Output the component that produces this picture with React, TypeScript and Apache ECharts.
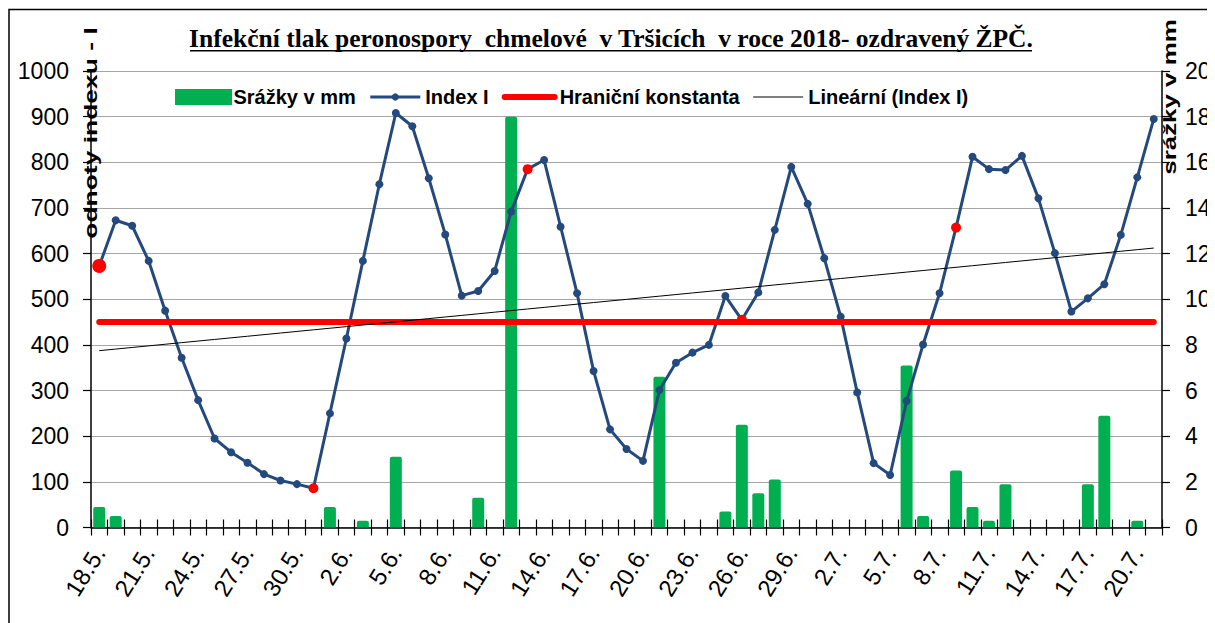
import React, { useEffect, useRef } from "react";
import * as echarts from "echarts";

const dates = [
  "18.5.", "19.5.", "20.5.", "21.5.", "22.5.", "23.5.", "24.5.", "25.5.", "26.5.", "27.5.", "28.5.", "29.5.", "30.5.", "31.5.",
  "1.6.", "2.6.", "3.6.", "4.6.", "5.6.", "6.6.", "7.6.", "8.6.", "9.6.", "10.6.", "11.6.", "12.6.", "13.6.", "14.6.", "15.6.",
  "16.6.", "17.6.", "18.6.", "19.6.", "20.6.", "21.6.", "22.6.", "23.6.", "24.6.", "25.6.", "26.6.", "27.6.", "28.6.", "29.6.", "30.6.",
  "1.7.", "2.7.", "3.7.", "4.7.", "5.7.", "6.7.", "7.7.", "8.7.", "9.7.", "10.7.", "11.7.", "12.7.", "13.7.", "14.7.", "15.7.",
  "16.7.", "17.7.", "18.7.", "19.7.", "20.7.", "21.7.",
];

const indexI = [
  573, 673, 661, 584, 475, 372, 279, 195, 165, 142, 117, 103, 95, 86,
  250, 414, 584, 752, 908, 879, 765, 642, 508, 518, 562, 692, 785, 805, 659,
  513, 343, 215, 172, 146, 301, 361, 383, 400, 507, 455, 515, 652, 790, 709,
  590, 462, 296, 141, 115, 277, 401, 513, 657, 812, 785, 783, 814, 721, 601,
  473, 502, 533, 641, 767, 895,
];

const srazky = [
  0.9, 0.5, 0, 0, 0, 0, 0, 0, 0, 0, 0, 0, 0, 0,
  0.9, 0, 0.3, 0, 3.1, 0, 0, 0, 0, 1.3, 0, 18, 0, 0, 0,
  0, 0, 0, 0, 0, 6.6, 0, 0, 0, 0.7, 4.5, 1.5, 2.1, 0, 0,
  0, 0, 0, 0, 0, 7.1, 0.5, 0, 2.5, 0.9, 0.3, 1.9, 0, 0, 0,
  0, 1.9, 4.9, 0, 0.3, 0,
];

// days marked in red on the Index I curve (every 13th day)
const redPoints = [0, 13, 26, 39, 52];
const hranicniKonstanta = 450;

const leftTicks = { min: 0, max: 1000, interval: 100 };
const rightTicks = { min: 0, max: 20, interval: 2 };

const titleText = "Infekční tlak peronospory  chmelové  v Tršicích  v roce 2018- ozdravený ŽPČ.";

function linearFit(vals: number[]) {
  const n = vals.length;
  let sx = 0, sy = 0, sxy = 0, sxx = 0;
  vals.forEach((v, i) => {
    sx += i; sy += v; sxy += i * v; sxx += i * i;
  });
  const b = (n * sxy - sx * sy) / (n * sxx - sx * sx);
  const a = (sy - b * sx) / n;
  return vals.map((_, i) => +(a + b * i).toFixed(2));
}

export default function App() {
  const ref = useRef<HTMLDivElement>(null);
  useEffect(() => {
    if (!ref.current) return;
    const chart = echarts.init(ref.current, null, { renderer: "svg" });
    const sans = '"Liberation Sans", Arial, sans-serif';
    const trend = linearFit(indexI);
    const indexData = indexI.map((v, i) => {
      if (redPoints.includes(i)) {
        return { value: v, symbolSize: i === 0 ? 14 : 10, itemStyle: { color: "#ff0000" } };
      }
      return v;
    });
    const option: any = {
      animation: false,
      backgroundColor: "#ffffff",
      grid: { left: 83, top: 63, width: 1071, height: 456.5 },
      legend: {
        left: 167,
        top: 79,
        padding: 0,
        itemWidth: 50,
        itemHeight: 9,
        itemGap: 13,
        textStyle: { fontFamily: sans, fontSize: 20, fontWeight: "bold", color: "#000" },
        data: [
          { name: "Srážky v mm", icon: "rect", itemStyle: { borderColor: "#00b050", borderWidth: 7 } },
          { name: "Index I", lineStyle: { width: 3 } },
          { name: "Hraniční konstanta", itemStyle: { opacity: 0 }, lineStyle: { width: 6, cap: "round" } },
          { name: "Lineární (Index I)", itemStyle: { opacity: 0 }, lineStyle: { width: 1 } },
        ],
      },
      xAxis: [
        {
          type: "category",
          data: dates,
          position: "bottom",
          axisLine: { lineStyle: { color: "#000", width: 1.5 } },
          axisTick: { show: true, interval: 0, length: 8, lineStyle: { color: "#000", width: 1.2 } },
          axisLabel: {
            interval: 2,
            rotate: 58,
            margin: 21,
            fontFamily: sans,
            fontSize: 24,
            color: "#000",
          },
          splitLine: { show: false },
        },
        {
          type: "category",
          data: dates,
          position: "bottom",
          axisLine: { show: false },
          axisTick: { show: true, inside: true, interval: 0, length: 8, lineStyle: { color: "#000", width: 1.2 } },
          axisLabel: { show: false },
          splitLine: { show: false },
        },
      ],
      yAxis: [
        {
          type: "value",
          position: "left",
          ...leftTicks,
          axisLine: { show: true, lineStyle: { color: "#000", width: 1.5 } },
          axisTick: { show: true, length: 8, lineStyle: { color: "#000", width: 1.2 } },
          axisLabel: { margin: 22, fontFamily: sans, fontSize: 23, color: "#000", formatter: (v: number) => String(v) },
          splitLine: { show: true, lineStyle: { color: "#a6a6a6", width: 1.2 } },
        },
        {
          type: "value",
          position: "right",
          ...rightTicks,
          axisLine: { show: true, lineStyle: { color: "#000", width: 1.5 } },
          axisTick: { show: true, length: 8, lineStyle: { color: "#000", width: 1.2 } },
          axisLabel: { margin: 23, fontFamily: sans, fontSize: 23, color: "#000", formatter: (v: number) => String(v) },
          splitLine: { show: false },
        },
      ],
      series: [
        {
          name: "Srážky v mm",
          type: "bar",
          xAxisIndex: 0,
          yAxisIndex: 1,
          data: srazky,
          barWidth: 12,
          itemStyle: { color: "#00b050", borderRadius: [2, 2, 0, 0] },
          z: 2,
        },
        {
          name: "Index I",
          type: "line",
          xAxisIndex: 0,
          yAxisIndex: 0,
          data: indexData,
          symbol: "circle",
          symbolSize: 8,
          showAllSymbol: true,
          lineStyle: { color: "#24497d", width: 3 },
          itemStyle: { color: "#24497d" },
          z: 3,
        },
        {
          name: "Hraniční konstanta",
          type: "line",
          xAxisIndex: 0,
          yAxisIndex: 0,
          data: dates.map(() => hranicniKonstanta),
          symbol: "none",
          lineStyle: { color: "#ff0000", width: 6, cap: "round" },
          itemStyle: { color: "#ff0000" },
          z: 4,
        },
        {
          name: "Lineární (Index I)",
          type: "line",
          xAxisIndex: 0,
          yAxisIndex: 0,
          data: trend,
          symbol: "none",
          lineStyle: { color: "#000", width: 1 },
          itemStyle: { color: "#000" },
          z: 5,
        },
      ],
      graphic: [
        {
          type: "rect",
          z: 100,
          shape: { x: 1, y: 1.5, width: 1300, height: 800 },
          style: { fill: "none", stroke: "#000", lineWidth: 1.5 },
          silent: true,
        },
        {
          type: "text",
          z: 100,
          x: 603,
          y: 30,
          style: {
            text: titleText,
            font: 'bold 25.5px "Liberation Serif", "Times New Roman", serif',
            fill: "#000",
            textAlign: "center",
            textVerticalAlign: "middle",
            align: "center",
            verticalAlign: "middle",
          },
        },
        {
          type: "line",
          z: 100,
          shape: { x1: 182, y1: 42.7, x2: 1024, y2: 42.7 },
          style: { stroke: "#000", lineWidth: 1.5 },
        },
        {
          type: "text",
          z: 100,
          x: 83,
          y: 125,
          rotation: Math.PI / 2,
          scaleX: 1.47,
          style: {
            text: "odnoty indexu - I",
            font: 'bold 18px "Liberation Sans", Arial, sans-serif',
            fill: "#000",
            textAlign: "center",
            textVerticalAlign: "middle",
            align: "center",
            verticalAlign: "middle",
          },
        },
        {
          type: "text",
          z: 100,
          x: 1162,
          y: 89,
          rotation: Math.PI / 2,
          scaleX: 1.44,
          style: {
            text: "srážky v mm",
            font: 'bold 18px "Liberation Sans", Arial, sans-serif',
            fill: "#000",
            textAlign: "center",
            textVerticalAlign: "middle",
            align: "center",
            verticalAlign: "middle",
          },
        },
      ],
    };
    chart.setOption(option);
    return () => chart.dispose();
  }, []);
  return <div ref={ref} style={{ width: 1207, height: 615 }} />;
}
